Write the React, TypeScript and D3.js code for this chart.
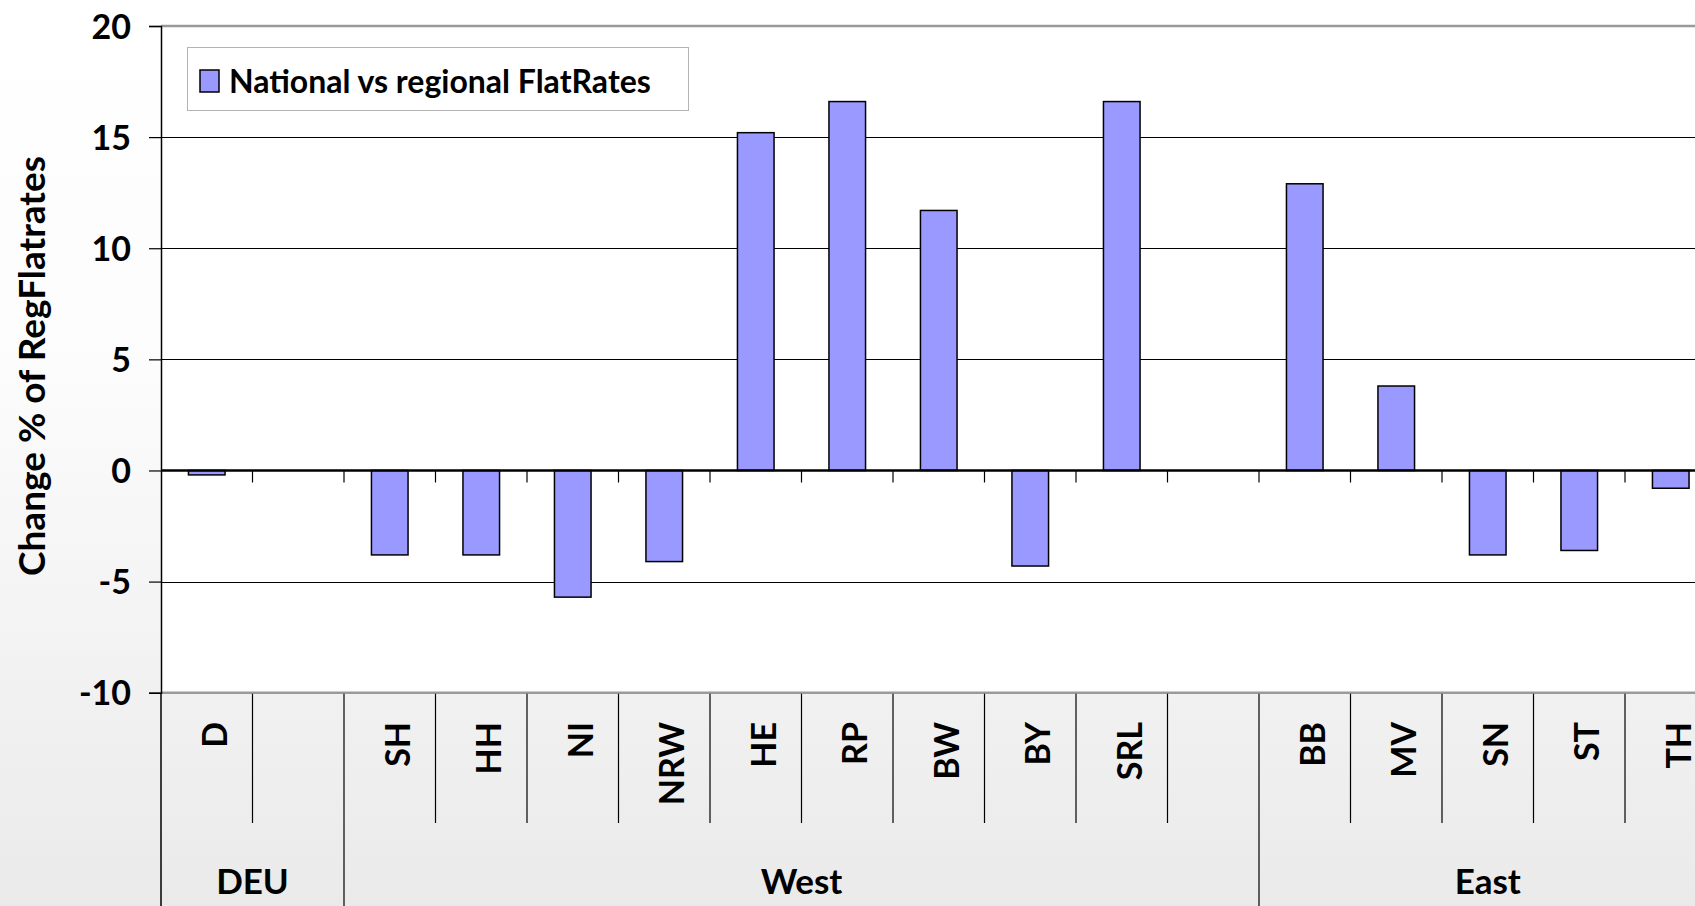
import React, { useEffect, useRef } from "react";
import * as d3 from "d3";

// categories (blank slots are Excel's empty spacer columns)
const categories = ["D", "", "SH", "HH", "NI", "NRW", "HE", "RP", "BW", "BY", "SRL", "", "BB", "MV", "SN", "ST", "TH"];
const values = [-0.2, null, -3.8, -3.8, -5.7, -4.1, 15.2, 16.6, 11.7, -4.3, 16.6, null, 12.9, 3.8, -3.8, -3.6, -0.8];
const groups = ["DEU", "West", "East"];
const groupSizes = [2, 10, 5];
const yTicks = [-10, -5, 0, 5, 10, 15, 20];
const seriesName = "National vs regional FlatRates";
const yTitle = "Change % of RegFlatrates";

const FONT = "Lato, 'Open Sans', sans-serif";

const App = () => {
    const svgRef = useRef(null);

    useEffect(() => {
        document.body.style.margin = "0";
        document.body.style.overflow = "hidden";

        const width = 1695;
        const height = 906;
        const plot = { left: 161, right: 1716.5, top: 26, bottom: 692.7 };

        const svg = d3.select(svgRef.current)
            .attr("width", width)
            .attr("height", height);

        svg.selectAll("*").remove();

        const defs = svg.append("defs");
        const grad = defs.append("linearGradient")
            .attr("id", "bg")
            .attr("x1", 0).attr("y1", 0).attr("x2", 0).attr("y2", 1);
        grad.append("stop").attr("offset", "0%").attr("stop-color", "#ffffff");
        grad.append("stop").attr("offset", "40%").attr("stop-color", "#fcfcfc");
        grad.append("stop").attr("offset", "100%").attr("stop-color", "#eaeaea");

        svg.append("rect")
            .attr("width", width)
            .attr("height", height)
            .attr("fill", "url(#bg)");

        const xScale = d3.scaleBand()
            .domain(d3.range(categories.length))
            .range([plot.left, plot.right])
            .padding(0);
        const step = xScale.step();
        const barW = step / 2.5;

        const yScale = d3.scaleLinear()
            .domain([-10, 20])
            .range([plot.bottom, plot.top]);

        // plot area
        svg.append("rect")
            .attr("x", plot.left)
            .attr("y", plot.top)
            .attr("width", plot.right - plot.left)
            .attr("height", plot.bottom - plot.top)
            .attr("fill", "#ffffff");

        // gridlines
        svg.append("g")
            .selectAll("line")
            .data(yTicks.filter(t => t !== 0 && t !== -10 && t !== 20))
            .enter()
            .append("line")
            .attr("x1", plot.left)
            .attr("x2", plot.right)
            .attr("y1", d => Math.round(yScale(d)) + 0.5)
            .attr("y2", d => Math.round(yScale(d)) + 0.5)
            .attr("stroke", "#000")
            .attr("stroke-width", 1);

        // top and bottom border (grey)
        [20, -10].forEach(t => {
            svg.append("line")
                .attr("x1", plot.left)
                .attr("x2", plot.right)
                .attr("y1", yScale(t))
                .attr("y2", yScale(t))
                .attr("stroke", "#9a9a9a")
                .attr("stroke-width", 2.5);
        });

        // bars
        svg.append("g")
            .selectAll("rect")
            .data(values.map((v, i) => ({ v, i })).filter(d => d.v !== null))
            .enter()
            .append("rect")
            .attr("x", d => xScale(d.i) + (step - barW) / 2)
            .attr("y", d => yScale(Math.max(0, d.v)))
            .attr("width", barW)
            .attr("height", d => Math.abs(yScale(d.v) - yScale(0)))
            .attr("fill", "#9999ff")
            .attr("stroke", "#000")
            .attr("stroke-width", 1.5);

        // zero line
        svg.append("line")
            .attr("x1", plot.left)
            .attr("x2", plot.right)
            .attr("y1", yScale(0))
            .attr("y2", yScale(0))
            .attr("stroke", "#000")
            .attr("stroke-width", 2.5);

        // category ticks on zero line
        svg.append("g")
            .selectAll("line")
            .data(d3.range(1, categories.length))
            .enter()
            .append("line")
            .attr("x1", d => xScale(d))
            .attr("x2", d => xScale(d))
            .attr("y1", yScale(0))
            .attr("y2", yScale(0) + 12)
            .attr("stroke", "#000")
            .attr("stroke-width", 1.2);

        // y axis
        const yAxis = svg.append("g")
            .attr("transform", `translate(${plot.left}, 0)`)
            .call(d3.axisLeft(yScale).tickValues(yTicks).tickSize(12).tickFormat(d => String(d)));
        yAxis.select(".domain").attr("stroke", "#000").attr("stroke-width", 1.5);
        yAxis.selectAll(".tick line").attr("stroke", "#000").attr("stroke-width", 1.2);
        yAxis.selectAll(".tick text")
            .attr("x", -30)
            .attr("dy", "0.36em")
            .attr("fill", "#000")
            .style("font-family", FONT)
            .style("font-weight", "bold")
            .style("font-size", "34px");

        // y title
        svg.append("text")
            .attr("transform", `translate(45, 366) rotate(-90)`)
            .attr("text-anchor", "middle")
            .style("font-family", FONT)
            .style("font-weight", "bold")
            .style("font-size", "37px")
            .text(yTitle);

        // category separators in the label area
        const groupStarts = groupSizes.map((s, i) => d3.sum(groupSizes.slice(0, i)));
        svg.append("g")
            .selectAll("line")
            .data(d3.range(0, categories.length + 1))
            .enter()
            .append("line")
            .attr("x1", d => plot.left + d * step)
            .attr("x2", d => plot.left + d * step)
            .attr("y1", plot.bottom + 1)
            .attr("y2", d => groupStarts.includes(d) || d === categories.length ? height : 823)
            .attr("stroke", "#000")
            .attr("stroke-width", d => d === 0 ? 1.5 : 1.2);

        // category labels
        svg.append("g")
            .selectAll("text")
            .data(categories.map((c, i) => ({ c, i })).filter(d => d.c !== ""))
            .enter()
            .append("text")
            .attr("transform", d => `translate(${xScale(d.i) + step / 2 + 20}, 722) rotate(-90)`)
            .attr("text-anchor", "end")
            .style("font-family", FONT)
            .style("font-weight", "bold")
            .style("font-size", "34px")
            .text(d => d.c);

        // group labels
        svg.append("g")
            .selectAll("text")
            .data(groups.map((g, i) => ({ g, start: groupStarts[i], size: groupSizes[i] })))
            .enter()
            .append("text")
            .attr("x", d => plot.left + (d.start + d.size / 2) * step)
            .attr("y", 894)
            .attr("text-anchor", "middle")
            .style("font-family", FONT)
            .style("font-weight", "bold")
            .style("font-size", "35px")
            .text(d => d.g);

        // legend
        const legend = svg.append("g");
        legend.append("rect")
            .attr("x", 187.5)
            .attr("y", 47.5)
            .attr("width", 501)
            .attr("height", 63)
            .attr("fill", "#fff")
            .attr("stroke", "#b4b4b4")
            .attr("stroke-width", 1);
        legend.append("rect")
            .attr("x", 200)
            .attr("y", 70)
            .attr("width", 19)
            .attr("height", 22)
            .attr("fill", "#9999ff")
            .attr("stroke", "#000")
            .attr("stroke-width", 1.5);
        legend.append("text")
            .attr("x", 229)
            .attr("y", 93)
            .style("font-family", FONT)
            .style("font-weight", "bold")
            .style("font-size", "32px")
            .text(seriesName);
    }, []);

    return <svg ref={svgRef} style={{ display: "block" }}></svg>;
};

export default App;
